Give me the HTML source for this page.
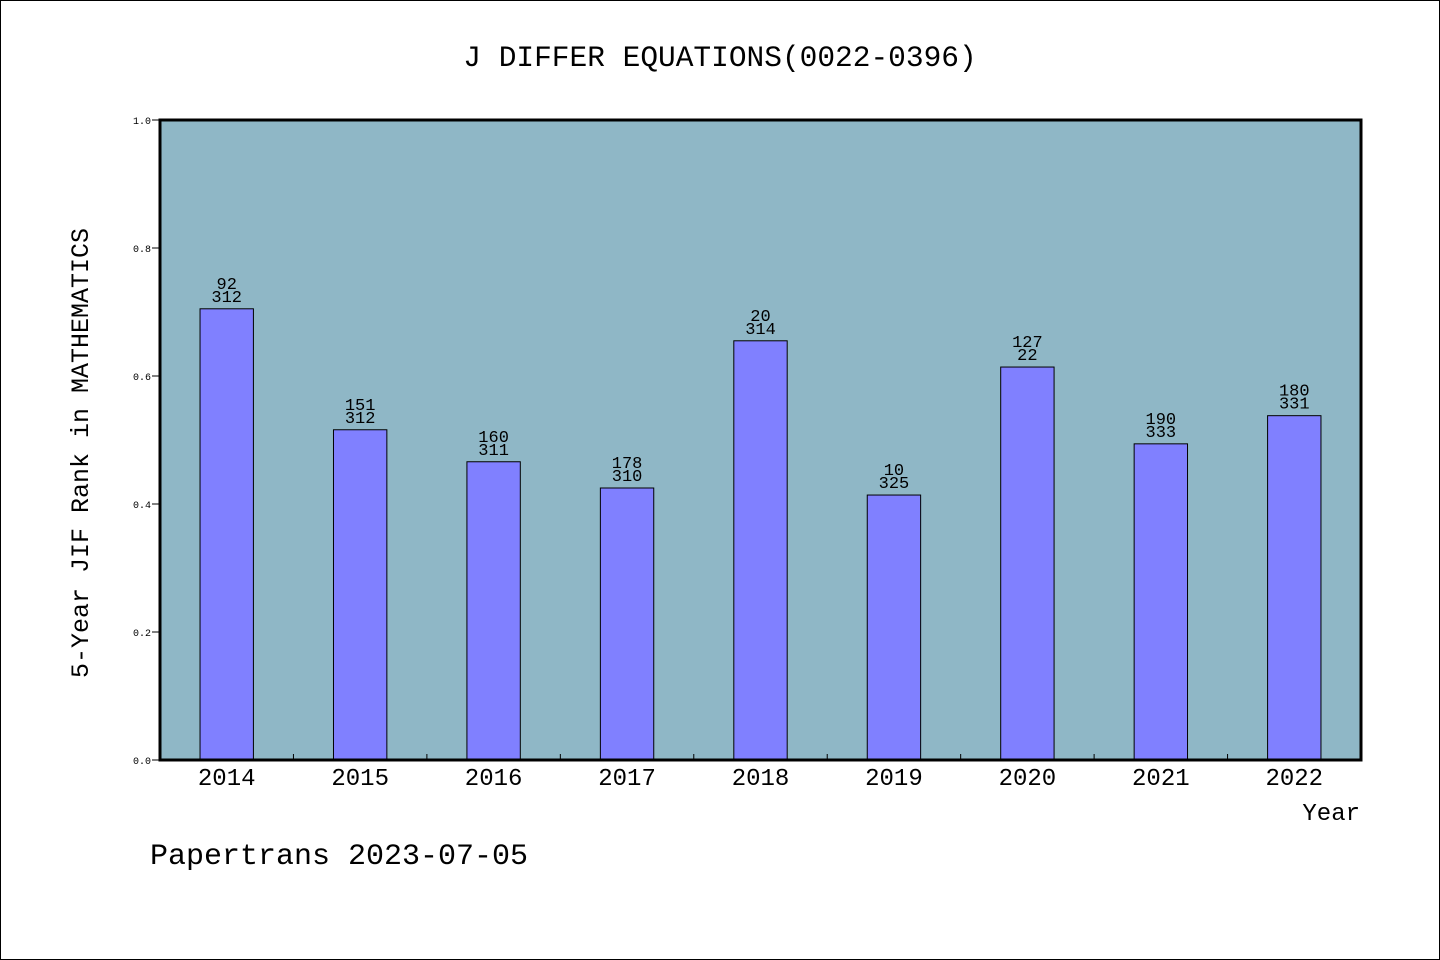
<!DOCTYPE html>
<html><head><meta charset="utf-8"><style>
html,body{margin:0;padding:0;background:#fff}
svg{display:block}
text{font-family:"Liberation Mono","WenQuanYi Zen Hei",monospace;fill:#000}
</style></head><body>
<svg width="1440" height="960" viewBox="0 0 1440 960">
<rect x="0.5" y="0.5" width="1439" height="959" fill="#fff" stroke="#000"/>
<text x="720" y="66" text-anchor="middle" font-size="29.5">J DIFFER EQUATIONS(0022-0396)</text>
<rect x="160" y="120" width="1201" height="640" fill="#8fb7c6"/>
<g id="bars"></g>
<g id="ticks"></g>
<rect x="160" y="120" width="1201" height="640" fill="none" stroke="#000" stroke-width="3"/>
<text transform="translate(88,453) rotate(-90)" text-anchor="middle" font-size="25">5-Year JIF Rank in MATHEMATICS</text>
<text x="1360" y="820" text-anchor="end" font-size="24">Year</text>
<text x="150" y="864" font-size="30">Papertrans 2023-07-05</text>
</svg>
<script>
const years=['2014','2015','2016','2017','2018','2019','2020','2021','2022'];
const values=[0.705,0.516,0.466,0.425,0.655,0.414,0.614,0.494,0.538];
const ranks=['92','151','160','178','20','10','127','190','180'];
const totals=['312','312','311','310','314','325','22','333','331'];
const yTicks=[0,0.2,0.4,0.6,0.8,1.0];
const NS='http://www.w3.org/2000/svg';
const X0=160,X1=1361,Y0=760,Y1=120;
const band=(X1-X0)/years.length;
const xc=i=>X0+band*(i+0.5);
const y=v=>Y0-(Y0-Y1)*v;
function mk(t,a,p){const e=document.createElementNS(NS,t);for(const k in a)e.setAttribute(k,a[k]);p.appendChild(e);return e;}
const gb=document.getElementById('bars'),gt=document.getElementById('ticks');
years.forEach((yr,i)=>{
  const w=band*0.4;
  const r=mk('rect',{x:xc(i)-w/2,y:y(values[i]),width:w,height:Y0-y(values[i]),fill:'#8080ff',stroke:'#000','stroke-width':1},gb);
  
  
  const t1=mk('text',{x:xc(i),y:y(values[i])-20,'text-anchor':'middle','font-size':17},gb);t1.textContent=ranks[i];
  
  
  const t2=mk('text',{x:xc(i),y:y(values[i])-7,'text-anchor':'middle','font-size':17},gb);t2.textContent=totals[i];
  
  
  const xl=mk('text',{x:xc(i),y:785,'text-anchor':'middle','font-size':24},gt);xl.textContent=yr;
  
  
  if(i>0){const l=mk('line',{x1:X0+band*i,x2:X0+band*i,y1:Y0,y2:Y0-6,stroke:'#000'},gt);
  
  }
});
yTicks.forEach(v=>{
  const l=mk('line',{x1:152,x2:160,y1:y(v),y2:y(v),stroke:'#000'},gt);
  
  
  const t=mk('text',{x:151,y:y(v)+4,'text-anchor':'end','font-size':10},gt);t.textContent=v.toFixed(1);
  
  
});
</script>
</body></html>
